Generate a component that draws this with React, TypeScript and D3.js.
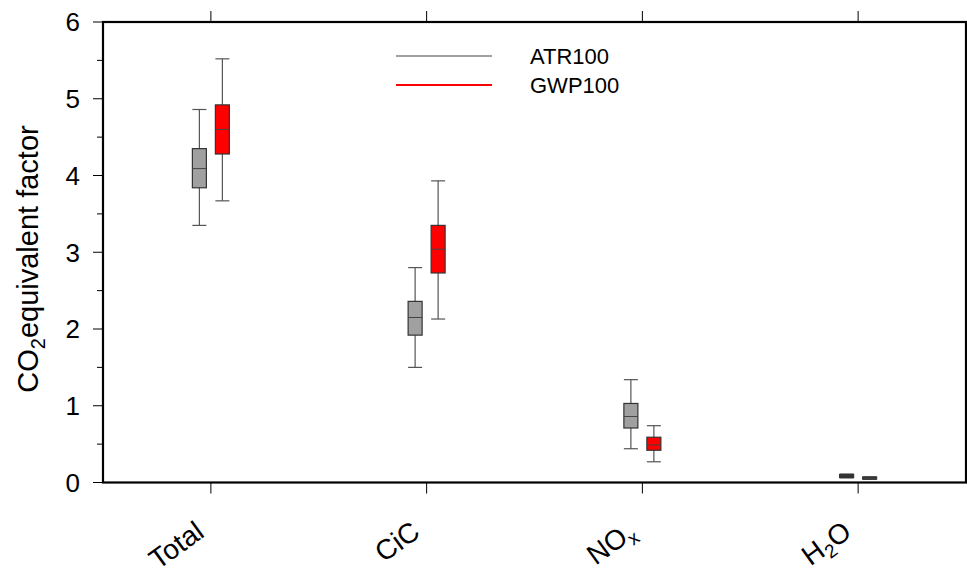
import React from "react";
import * as d3 from "d3";

const categories = ["Total", "CiC", "NOx", "H2O"];
const series = ["ATR100", "GWP100"];
// [low whisker, q1, median, q3, high whisker]
const atr100 = [
  [3.35, 3.84, 4.09, 4.35, 4.86],
  [1.5, 1.92, 2.15, 2.36, 2.8],
  [0.44, 0.71, 0.86, 1.03, 1.34],
  [0.06, 0.065, 0.085, 0.105, 0.11],
];
const gwp100 = [
  [3.67, 4.28, 4.6, 4.92, 5.52],
  [2.13, 2.73, 3.04, 3.35, 3.93],
  [0.27, 0.42, 0.49, 0.59, 0.74],
  [0.04, 0.045, 0.055, 0.07, 0.075],
];
const yTicks = [0, 1, 2, 3, 4, 5, 6];
const yMinorTicks = [0.5, 1.5, 2.5, 3.5, 4.5, 5.5];

const W = 967;
const H = 579;
const L = 103, R = 966, T = 22, B = 482.5;
const FONT = "'Liberation Sans', Arial, Helvetica, sans-serif";
const colors = ["#a0a0a0", "#ff0000"];
const offsets = [-11.5, 11.5];
const boxW = 14;

function Label({ name }: { name: string }) {
  if (name === "NOx")
    return (
      <>
        NO<tspan fontSize={19} dy={6}>x</tspan>
      </>
    );
  if (name === "H2O")
    return (
      <>
        H<tspan fontSize={19} dy={6}>2</tspan>
        <tspan dy={-6}>O</tspan>
      </>
    );
  return <>{name}</>;
}

export default function App() {
  const x = d3.scalePoint<string>().domain(categories).range([L, R]).padding(0.5);
  const y = d3.scaleLinear().domain([0, 6]).range([B, T]);
  const data = [atr100, gwp100];

  return (
    <svg width={W} height={H} style={{ position: "absolute", left: 0, top: 0, background: "#fff" }} fontFamily={FONT}>
      <rect x={0} y={0} width={W} height={H} fill="#fff" />
      {/* y ticks */}
      {yTicks.map((t) => (
        <g key={t}>
          <line x1={L - 10} x2={L} y1={y(t)} y2={y(t)} stroke="#000" strokeWidth={1} />
          <text x={80} y={y(t)} dy="0.36em" textAnchor="end" fontSize={26}>
            {t}
          </text>
        </g>
      ))}
      {yMinorTicks.map((t) => (
        <line key={t} x1={L - 6} x2={L} y1={y(t)} y2={y(t)} stroke="#000" strokeWidth={1} />
      ))}
      {/* x ticks top and bottom */}
      {categories.map((c) => (
        <g key={c}>
          <line x1={x(c)!} x2={x(c)!} y1={B} y2={B + 11} stroke="#000" strokeWidth={1} />
          <line x1={x(c)!} x2={x(c)!} y1={T} y2={T - 11} stroke="#000" strokeWidth={1} />
          <text
            transform={`translate(${x(c)! - 5},${B + 53}) rotate(-36)`}
            textAnchor="end"
            fontSize={28}
          >
            <Label name={c} />
          </text>
        </g>
      ))}
      {/* boxes */}
      {data.map((s, si) =>
        s.map((v, ci) => {
          const cx = x(categories[ci])! + offsets[si];
          const [lo, q1, med, q3, hi] = v;
          return (
            <g key={`${si}-${ci}`}>
              <line x1={cx} x2={cx} y1={y(hi)} y2={y(lo)} stroke="#555" strokeWidth={1.2} />
              <line x1={cx - boxW / 2} x2={cx + boxW / 2} y1={y(hi)} y2={y(hi)} stroke="#555" strokeWidth={1.2} />
              <line x1={cx - boxW / 2} x2={cx + boxW / 2} y1={y(lo)} y2={y(lo)} stroke="#555" strokeWidth={1.2} />
              <rect
                x={cx - boxW / 2}
                y={y(q3)}
                width={boxW}
                height={Math.max(y(q1) - y(q3), 1)}
                fill={ci === 3 ? "#222" : colors[si]}
                stroke="#333"
                strokeWidth={1.2}
              />
              <line x1={cx - boxW / 2} x2={cx + boxW / 2} y1={y(med)} y2={y(med)} stroke="#444" strokeWidth={1} />
            </g>
          );
        })
      )}
      {/* frame */}
      <rect x={L} y={T} width={R - L} height={B - T} fill="none" stroke="#000" strokeWidth={2.2} />
      {/* legend */}
      {series.map((s, i) => (
        <g key={s}>
          <line x1={396} x2={492} y1={56 + i * 29} y2={56 + i * 29} stroke={colors[i]} strokeWidth={2} />
          <text x={530} y={56 + i * 29} dy="0.36em" fontSize={22}>
            {s}
          </text>
        </g>
      ))}
      {/* y title */}
      <text transform={`translate(38,259) rotate(-90)`} textAnchor="middle" fontSize={29}>
        CO<tspan fontSize={20} dy={7}>2</tspan>
        <tspan dy={-7}>equivalent factor</tspan>
      </text>
    </svg>
  );
}
